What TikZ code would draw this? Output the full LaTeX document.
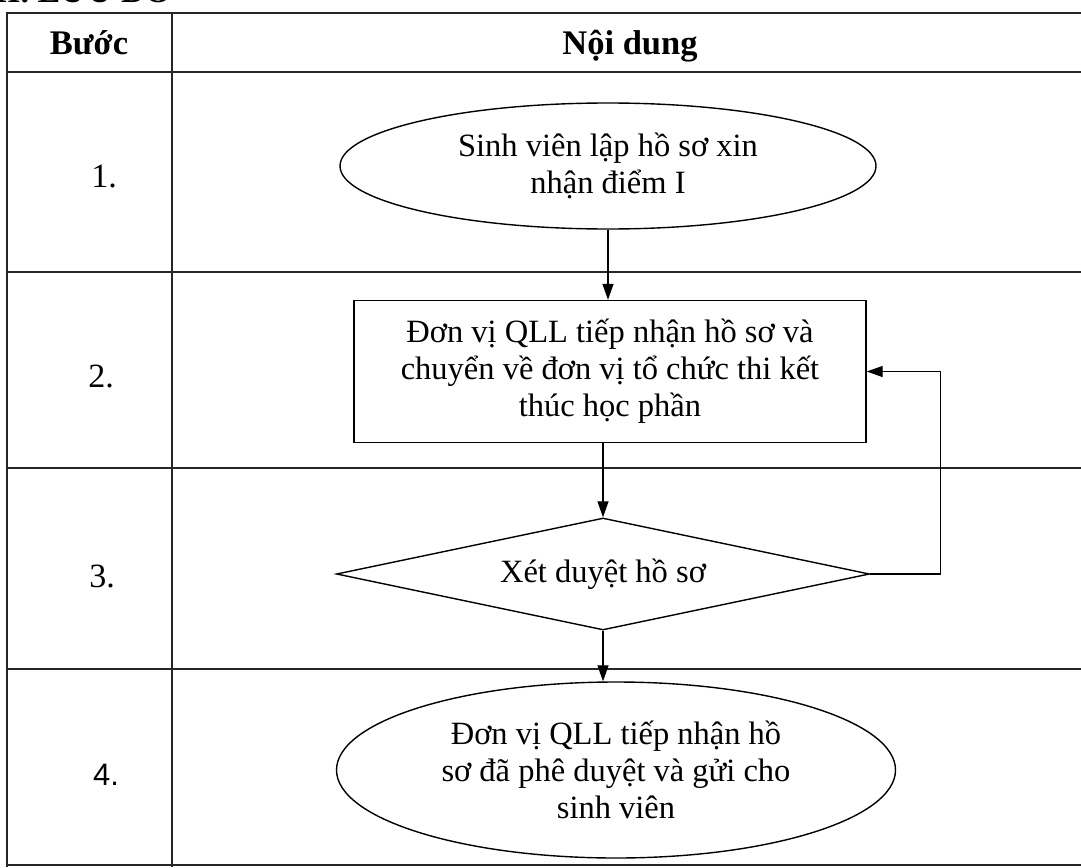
\documentclass[tikz,border=0pt]{standalone}
\usepackage{fontspec}
\setmainfont{Liberation Serif}
\newfontfamily\sansf{Liberation Sans}
\usetikzlibrary{shapes.geometric,arrows.meta}
\tikzset{
  tbl/.style={line width=1.1pt, black!85},
  shp/.style={draw, line width=1.4pt, inner sep=0pt, align=center,
     font=\fontsize{32.5}{37}\selectfont},
  arr/.style={line width=1.3pt, -{Triangle[length=16pt,width=11pt]}},
  num/.style={anchor=base, font=\fontsize{34}{40}\selectfont},
  hdr/.style={anchor=base, font=\fontsize{34.5}{40}\selectfont\bfseries},
}
\begin{document}
\begin{tikzpicture}[x=1pt,y=-1pt]
\useasboundingbox (0,0) rectangle (1081,867);
% cut-off heading
\node[anchor=base west, inner sep=0pt, font=\fontsize{34}{40}\selectfont\bfseries] (title) at (-6,3) {II. LƯU ĐỒ};
% table
\draw[tbl] (1090,13) -- (7,13) -- (7,867);
\draw[tbl] (172,13) -- (172,867);
\draw[tbl] (7,72) -- (1090,72);
\draw[tbl] (7,272) -- (1090,272);
\draw[tbl] (7,468) -- (1090,468);
\draw[tbl] (7,669) -- (1090,669);
\draw[tbl] (7,865) -- (1090,865);
% headers
\node[hdr] (hstep) at (89,55) {Bước};
\node[hdr] (hcont) at (630,55) {Nội dung};
% step numbers
\node[num] (n1) at (104,187) {1.};
\node[num] (n2) at (101,387) {2.};
\node[num] (n3) at (102,587) {3.};
\node[num, font=\sansf\fontsize{31}{40}\selectfont] (n4) at (106,785) {4.};
% shapes
\node[shp, ellipse, minimum width=536pt, minimum height=126pt] (e1) at (608,166)
  {Sinh viên lập hồ sơ xin\\nhận điểm I};
\node[shp, rectangle, minimum width=512pt, minimum height=142pt] (r) at (610,371.5)
  {Đơn vị QLL tiếp nhận hồ sơ và\\chuyển về đơn vị tổ chức thi kết\\thúc học phần};
\node[shp, diamond, shape aspect=4.76, minimum width=533pt, minimum height=112pt] (d) at (603,574)
  {Xét duyệt hồ sơ};
\node[shp, ellipse, minimum width=559pt, minimum height=176pt] (e2) at (616,770)
  {Đơn vị QLL tiếp nhận hồ\\sơ đã phê duyệt và gửi cho\\sinh viên};
% connectors
\draw[arr] (e1.south) -- (e1.south |- r.north);
\draw[arr] (d.north |- r.south) -- (d.north);
\draw[arr] (d.south) -- (d.south |- e2.north);
\draw[arr] (d.east) -- ++(70,0) |- (r.east);
\end{tikzpicture}
\end{document}
